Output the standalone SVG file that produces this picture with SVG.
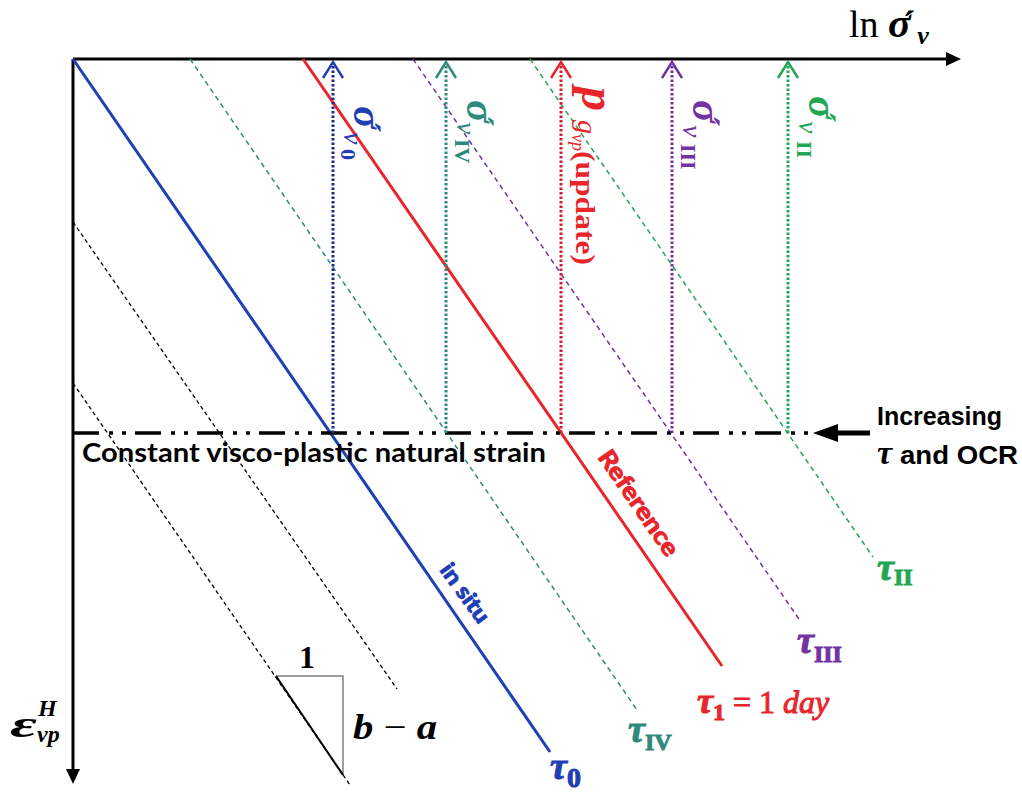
<svg xmlns="http://www.w3.org/2000/svg" width="1022" height="794" viewBox="0 0 1022 794">
<style>
.ax{stroke:#000;stroke-width:3;fill:none}
.iso{fill:none;stroke-width:1.5;stroke-dasharray:5 4}
.bk{fill:none;stroke:#000;stroke-width:1.3;stroke-dasharray:4 3}
.dot{fill:none;stroke-width:3;stroke-dasharray:2.5 2}
.chev{fill:none;stroke-width:2.5}
.se{font-family:"Liberation Serif","Times New Roman",serif}
.bi{font-weight:bold;font-style:italic}
.ac{font-style:normal;font-size:38px}
.sa{font-family:"Liberation Sans",Arial,sans-serif;font-weight:bold}
.ca{font-family:Lato,"Liberation Sans",sans-serif;font-weight:bold}
.blue{fill:#1f3fb4;stroke:#1f3fb4}
.teal{fill:#2f8a7c;stroke:#2f8a7c}
.red{fill:#e8252b;stroke:#e8252b}
.purple{fill:#7232a2;stroke:#7232a2}
.green{fill:#22a655;stroke:#22a655}
text{stroke:none}
</style>
<rect width="1022" height="794" fill="#fff"/>

<g id="axes">
  <line class="ax" x1="73" y1="59" x2="947" y2="59"/>
  <polygon points="946,52 961,59 946,66" fill="#000"/>
  <line class="ax" x1="73" y1="59" x2="73" y2="770"/>
  <polygon points="66,769 73,784 80,769" fill="#000"/>
  <text class="se" x="849" y="37" font-size="38">ln <tspan class="bi" font-size="42">σ</tspan><tspan class="ac" font-weight="bold" dx="-8">´</tspan><tspan class="bi" font-size="26" dx="2" dy="7">v</tspan></text>
  <text class="se bi" x="10" y="737" font-size="38" textLength="27" lengthAdjust="spacingAndGlyphs">ε</text>
  <text class="se bi" x="38" y="716" font-size="24">H</text>
  <text class="se bi" x="37" y="742" font-size="24">vp</text>
</g>

<g id="black-isochrones">
  <line class="bk" x1="73" y1="222" x2="397" y2="689"/>
  <line class="bk" x1="73" y1="383" x2="350" y2="785"/>
</g>

<g id="slope-triangle">
  <polyline points="276,676 343,676 343,775" fill="none" stroke="#808080" stroke-width="1.5"/>
  <line x1="276" y1="676" x2="343" y2="775" stroke="#000" stroke-width="2"/>
  <text class="se" font-weight="bold" x="307" y="668" font-size="32" text-anchor="middle">1</text>
  <text class="se bi" x="353" y="739" font-size="36" textLength="84" lengthAdjust="spacingAndGlyphs">b <tspan font-style="normal" font-weight="normal">−</tspan> a</text>
</g>

<g id="iso-tau0">
  <line class="blue" x1="73" y1="59" x2="550" y2="752" stroke-width="3"/>
  <text class="ca blue" font-size="22" transform="translate(439,570) rotate(54)" textLength="68" lengthAdjust="spacingAndGlyphs">in situ</text>
  <text class="se bi blue" x="550" y="779" font-size="38">τ<tspan font-style="normal" font-size="28" dy="8">0</tspan></text>
</g>

<g id="iso-tauIV">
  <line class="iso teal" x1="190" y1="59" x2="637" y2="710"/>
  <text class="se bi teal" x="628" y="742" font-size="38">τ<tspan font-style="normal" font-size="24" dy="8">IV</tspan></text>
</g>

<g id="iso-tau1">
  <line class="red" x1="303" y1="59" x2="722" y2="666" stroke-width="3"/>
  <text class="ca red" font-size="24" transform="translate(597,457) rotate(55.4)" textLength="123" lengthAdjust="spacingAndGlyphs">Reference</text>
  <text class="se red" x="697" y="713" font-size="32"><tspan class="bi" font-size="36">τ</tspan><tspan font-weight="bold" font-size="24" dy="7">1</tspan><tspan dy="-7"> = 1 </tspan><tspan font-style="italic">day</tspan></text>
</g>

<g id="iso-tauIII">
  <line class="iso purple" x1="413" y1="59" x2="801" y2="622"/>
  <text class="se bi purple" x="797" y="653" font-size="38">τ<tspan font-style="normal" font-size="24" dy="9">III</tspan></text>
</g>

<g id="iso-tauII">
  <line class="iso green" x1="530" y1="59" x2="873" y2="557"/>
  <text class="se bi green" x="877" y="580" font-size="38">τ<tspan font-style="normal" font-size="24" dy="5">II</tspan></text>
</g>

<g id="constant-strain">
  <line x1="73" y1="433" x2="808" y2="433" stroke="#000" stroke-width="3.5" stroke-dasharray="26 10 4 9 4 9"/>
  <text class="ca" x="82" y="462" font-size="26" textLength="464" lengthAdjust="spacingAndGlyphs">Constant visco-plastic natural strain</text>
</g>

<g id="increasing">
  <line x1="870" y1="433" x2="834" y2="433" stroke="#000" stroke-width="5"/>
  <polygon points="813,433 838,424 838,442" fill="#000"/>
  <text class="sa" x="877" y="425" font-size="25">Increasing</text>
  <text class="se bi" x="877" y="464" font-size="34">τ</text>
  <text class="sa" x="900" y="464" font-size="25" textLength="118" lengthAdjust="spacingAndGlyphs">and OCR</text>
</g>

<g id="connectors">
  <g class="blue">
    <line class="dot" x1="333" y1="433" x2="333" y2="63" stroke="#1e2c8c"/>
    <polyline class="chev" points="323,78 333,62 343,78" stroke="#1f3fb4"/>
  </g>
  <g class="teal">
    <line class="dot" x1="446" y1="433" x2="446" y2="63"/>
    <polyline class="chev" points="436,78 446,62 456,78"/>
  </g>
  <g class="red">
    <line class="dot" x1="561" y1="433" x2="561" y2="63" stroke="#d02030"/>
    <polyline class="chev" points="551,78 561,62 571,78"/>
  </g>
  <g class="purple">
    <line class="dot" x1="672" y1="433" x2="672" y2="63"/>
    <polyline class="chev" points="662,78 672,62 682,78"/>
  </g>
  <g class="green">
    <line class="dot" x1="788" y1="433" x2="788" y2="63"/>
    <polyline class="chev" points="778,78 788,62 798,78"/>
  </g>
</g>

<g id="label-sigma-v0" class="se blue" transform="translate(354,0) rotate(90)">
  <text class="bi" x="106" y="0" font-size="42">σ<tspan class="ac" dx="-8">´</tspan><tspan font-weight="normal" font-size="28" x="132" dy="10">v</tspan><tspan font-style="normal" font-size="22" x="149" dy="3">0</tspan></text>
</g>
<g id="label-sigma-vIV" class="se teal" transform="translate(467,0) rotate(90)">
  <text class="bi" x="100" y="0" font-size="42">σ<tspan class="ac" dx="-8">´</tspan><tspan font-weight="normal" font-size="28" x="122" dy="10">v</tspan><tspan font-style="normal" font-size="22" x="139" dy="2">IV</tspan></text>
</g>
<g id="label-pg" class="se red" transform="translate(582,0) rotate(90)">
  <text class="bi" x="87" y="0" font-size="48">p<tspan font-weight="normal" font-size="28" x="120" dy="4">g</tspan><tspan font-weight="normal" font-size="18" x="134" dy="6">vp</tspan><tspan font-style="normal" font-size="28" x="151" dy="-4" textLength="114" lengthAdjust="spacingAndGlyphs">(update)</tspan></text>
</g>
<g id="label-sigma-vIII" class="se purple" transform="translate(693,0) rotate(90)">
  <text class="bi" x="100" y="0" font-size="42">σ<tspan class="ac" dx="-8">´</tspan><tspan font-weight="normal" font-size="28" x="125" dy="10">v</tspan><tspan font-style="normal" font-size="22" x="144" dy="2">III</tspan></text>
</g>
<g id="label-sigma-vII" class="se green" transform="translate(809,0) rotate(90)">
  <text class="bi" x="96" y="0" font-size="42">σ<tspan class="ac" dx="-8">´</tspan><tspan font-weight="normal" font-size="28" x="121" dy="10">v</tspan><tspan font-style="normal" font-size="22" x="141" dy="2">II</tspan></text>
</g>
</svg>
